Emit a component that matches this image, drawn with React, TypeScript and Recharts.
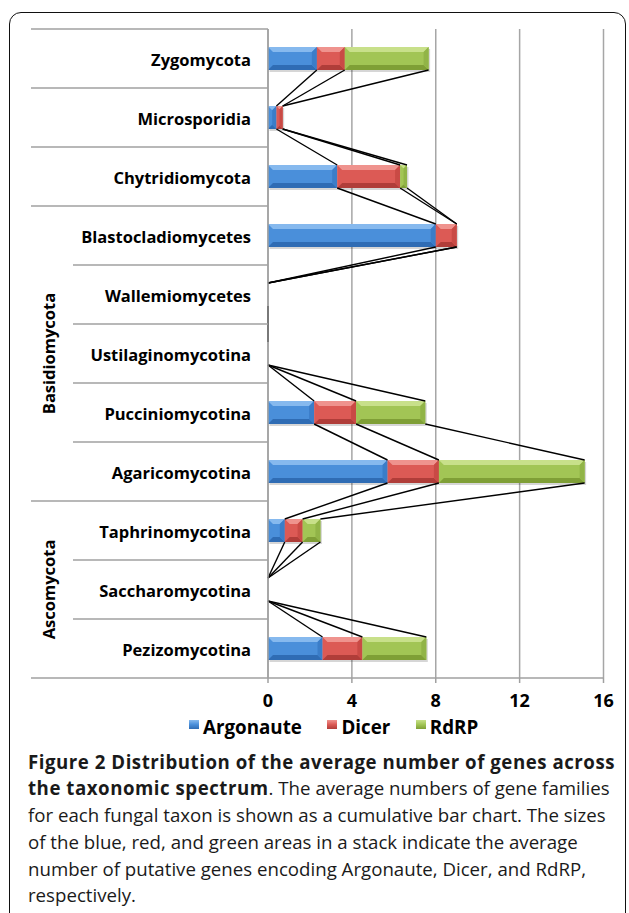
import React from "react"
import { BarChart, Bar, XAxis, YAxis, CartesianGrid } from "recharts"

const categories = [
  "Zygomycota",
  "Microsporidia",
  "Chytridiomycota",
  "Blastocladiomycetes",
  "Wallemiomycetes",
  "Ustilaginomycotina",
  "Pucciniomycotina",
  "Agaricomycotina",
  "Taphrinomycotina",
  "Saccharomycotina",
  "Pezizomycotina",
]
const argonaute = [2.33, 0.4, 3.3, 8.0, 0, 0, 2.2, 5.7, 0.8, 0, 2.6]
const dicer = [1.33, 0.3, 3.0, 1.0, 0, 0, 2.0, 2.45, 0.85, 0, 1.9]
const rdrp = [4.0, 0, 0.33, 0, 0, 0, 3.3, 6.95, 0.85, 0, 3.05]
const xTicks = [0, 4, 8, 12, 16]
const groups = [
  { label: "Basidiomycota", first: 3, last: 7 },
  { label: "Ascomycota", first: 8, last: 10 },
]

const SERIES = [
  { key: "argonaute", name: "Argonaute", base: "#4a8fda", light: "#86b9ee", dark: "#2f6cb4", side: "#3b7dc8" },
  { key: "dicer", name: "Dicer", base: "#dc5a55", light: "#ef938e", dark: "#b03d39", side: "#c94a45" },
  { key: "rdrp", name: "RdRP", base: "#a2c555", light: "#c8e08a", dark: "#7f9f36", side: "#91b447" },
]

const CAPTION_BOLD = "Figure 2 Distribution of the average number of genes across"
const CAPTION_REGULAR = "for each fungal taxon is shown as a cumulative bar chart. The sizes"

const FONT = "'Open Sans', 'Noto Sans', sans-serif"
const PLOT_TOP = 29
const PLOT_H = 649
const HALF_BAND = PLOT_H / categories.length / 2

// measure text so font sizes can be matched to the reference widths
function textWidth(text: string, weight: number, size: number, spacing = 0) {
  const ctx = document.createElement("canvas").getContext("2d")
  if (!ctx) return text.length * size * 0.55
  ctx.font = `${weight} ${size}px 'Open Sans'`
  return ctx.measureText(text).width + spacing * text.length
}
const captionSize = Math.min(21, Math.max(16, (100 * 578) / textWidth(CAPTION_REGULAR, 400, 100)))
const boldSpacing = (587 - textWidth(CAPTION_BOLD, 700, captionSize)) / CAPTION_BOLD.length
const legendSize = Math.min(24, Math.max(16, (100 * 99) / textWidth("Argonaute", 700, 100)))

const data = categories.map((name, i) => ({
  name,
  argonaute: argonaute[i],
  dicer: dicer[i],
  rdrp: rdrp[i],
}))

// segment ends collected while bars render, used for the series lines
const ends: Record<string, { x: number; top: number; bottom: number }[]> = {
  argonaute: [],
  dicer: [],
  rdrp: [],
}

function makeShape(s: (typeof SERIES)[number], drawLines: boolean) {
  return (props: any) => {
    const { x, y, width, height } = props
    let i = categories.indexOf(props.payload?.name)
    if (i < 0) i = props.index
    ends[s.key][i] = { x: x + width, top: y, bottom: y + height }
    const w = Math.max(0, width)
    const b = Math.min(5, w / 2, height / 2)
    const lines: React.ReactNode[] = []
    if (drawLines && i > 0) {
      SERIES.forEach((ss) => {
        const a = ends[ss.key][i - 1]
        const c = ends[ss.key][i]
        if (a && c) {
          lines.push(
            <line key={ss.key} x1={a.x} y1={a.bottom} x2={c.x} y2={c.top} stroke="#000" strokeWidth={1.4} />
          )
        }
      })
    }
    return (
      <g>
        {w > 0 && (
          <g>
            <rect x={x + 1.5} y={y + 2} width={w} height={height} fill="rgba(0,0,0,0.16)" />
            <rect x={x} y={y} width={w} height={height} fill={s.base} />
            <polygon points={`${x},${y} ${x + w},${y} ${x + w - b},${y + b} ${x + b},${y + b}`} fill={s.light} />
            <polygon
              points={`${x},${y + height} ${x + w},${y + height} ${x + w - b},${y + height - b} ${x + b},${y + height - b}`}
              fill={s.dark}
            />
            <polygon points={`${x + w},${y} ${x + w},${y + height} ${x + w - b},${y + height - b} ${x + w - b},${y + b}`} fill={s.side} />
          </g>
        )}
        {lines}
      </g>
    )
  }
}

function CategoryTick(props: any) {
  const { y, payload } = props
  const i = categories.indexOf(payload.value)
  const top = y - HALF_BAND
  const inner = groups.some((g) => i > g.first && i <= g.last)
  const group = groups.find((g) => (g.first + g.last) / 2 === i)
  return (
    <g>
      <line x1={inner ? 73 : 31} y1={top} x2={268} y2={top} stroke="#a0a0a0" strokeWidth={1.5} />
      {i === categories.length - 1 && (
        <line x1={31} y1={y + HALF_BAND} x2={268} y2={y + HALF_BAND} stroke="#a0a0a0" strokeWidth={1.5} />
      )}
      <text x={251} y={y} dy={7} textAnchor="end" fontFamily={FONT} fontWeight={700} fontSize={16.5} fill="#000">
        {payload.value}
      </text>
      {group && (
        <text
          x={48}
          y={y}
          textAnchor="middle"
          dominantBaseline="central"
          transform={`rotate(-90 48 ${y})`}
          fontFamily={FONT}
          fontWeight={700}
          fontSize={16.5}
          fill="#000"
        >
          {group.label}
        </text>
      )}
    </g>
  )
}

export default function App() {
  return (
    <div style={{ position: "absolute", left: 0, top: 0, width: 629, height: 913, overflow: "hidden", background: "#fff" }}>
      <div
        style={{
          position: "absolute",
          left: 9,
          top: 12,
          width: 617,
          height: 960,
          border: "1.5px solid #111",
          borderRadius: 12,
          boxSizing: "border-box",
        }}
      />
      <div style={{ position: "absolute", left: 0, top: 0 }}>
        <BarChart
          layout="vertical"
          width={629}
          height={PLOT_TOP + PLOT_H + 40}
          data={data}
          barSize={23}
          margin={{ top: PLOT_TOP, right: 25.5, left: 0, bottom: 0 }}
        >
          <CartesianGrid horizontal={false} stroke="#a6a6a6" strokeWidth={1.5} />
          <XAxis
            type="number"
            domain={[0, 16]}
            ticks={xTicks}
            interval={0}
            height={40}
            tickSize={5}
            tickMargin={11}
            axisLine={{ stroke: "#a0a0a0", strokeWidth: 1.5 }}
            tickLine={{ stroke: "#a0a0a0", strokeWidth: 1.5 }}
            tick={{ fill: "#000", fontSize: 18, fontWeight: 700, fontFamily: FONT }}
          />
          <YAxis
            type="category"
            dataKey="name"
            width={268}
            interval={0}
            tickLine={false}
            axisLine={{ stroke: "#a0a0a0", strokeWidth: 1.5 }}
            tick={<CategoryTick />}
          />
          {SERIES.map((s, k) => (
            <Bar
              key={s.key}
              dataKey={s.key}
              name={s.name}
              stackId="a"
              fill={s.base}
              isAnimationActive={false}
              shape={makeShape(s, k === SERIES.length - 1)}
            />
          ))}
        </BarChart>
      </div>
      <div
        style={{
          position: "absolute",
          left: 189,
          top: 734 - 1.069 * legendSize,
          display: "flex",
          gap: 25.5,
          fontFamily: FONT,
          fontWeight: 700,
          fontSize: legendSize,
          lineHeight: "normal",
          color: "#000",
          whiteSpace: "nowrap",
        }}
      >
        {SERIES.map((s) => (
          <div key={s.key} style={{ display: "flex", alignItems: "flex-start" }}>
            <span
              style={{
                display: "inline-block",
                width: 10,
                height: 9,
                marginTop: 734 - 14 - (734 - 1.069 * legendSize),
                marginRight: 4,
                background: `linear-gradient(${s.light}, ${s.base} 50%, ${s.dark})`,
              }}
            />
            <span>{s.name}</span>
          </div>
        ))}
      </div>
      <div
        style={{
          position: "absolute",
          left: 28,
          top: 769.3 - ((26.7 - 1.362 * captionSize) / 2 + 1.069 * captionSize),
          fontFamily: FONT,
          fontSize: captionSize,
          lineHeight: "26.7px",
          color: "#1a1a1a",
          whiteSpace: "nowrap",
        }}
      >
        <b style={{ letterSpacing: boldSpacing }}>{CAPTION_BOLD}</b>
        <br />
        <b style={{ letterSpacing: boldSpacing }}>the taxonomic spectrum</b>. The average numbers of gene families
        <br />
        {CAPTION_REGULAR}
        <br />
        of the blue, red, and green areas in a stack indicate the average
        <br />
        number of putative genes encoding Argonaute, Dicer, and RdRP,
        <br />
        respectively.
      </div>
    </div>
  )
}
